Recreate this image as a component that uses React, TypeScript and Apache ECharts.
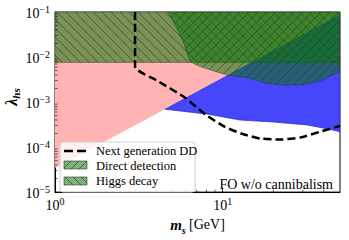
import React, { useEffect, useRef } from "react";
import * as echarts from "echarts";

// Axis ranges (m_s in GeV, lambda_hs)
const xRange = [1, 50];
const yRange = [1e-5, 0.1];

// Pink region (m_s [GeV], lambda_hs)
const pinkX = [1, 4.53, 50, 50, 1];
const pinkY = [3.47e-5, 6.9e-4, 0.086, 0.1, 0.1];

// Blue region
const blueX = [4.53, 50, 50, 41.9, 31.8, 19.95, 12.7, 8.17];
const blueY = [6.9e-4, 0.086, 2.2e-4, 2.54e-4, 3.1e-4, 3.6e-4, 3.98e-4, 5.37e-4];

// Higgs decay exclusion
const higgsX = [1, 50, 50, 1];
const higgsY = [7.6e-3, 7.6e-3, 0.1, 0.1];

// Direct detection exclusion
const ddX = [4.72, 5.19, 5.8, 6.38, 7.32, 9.0, 10.8, 14.5, 17.9, 22.9, 28.9, 38.0, 50, 50];
const ddY = [0.1, 0.0523, 0.0224, 7.9e-3, 6.15e-3, 4.8e-3, 3.93e-3, 3.39e-3, 2.64e-3, 2.39e-3, 2.39e-3, 2.92e-3, 4.8e-3, 0.1];

// Next generation DD (dashed)
const nextX = [3.0, 3.0, 4.11, 5.96, 7.84, 10.3, 13.0, 16.7, 22.0, 28.9, 38.0, 50];
const nextY = [0.1, 6.15e-3, 2.92e-3, 1.25e-3, 5.37e-4, 2.81e-4, 1.98e-4, 1.55e-4, 1.47e-4, 1.63e-4, 2.19e-4, 2.95e-4];

// Minor ticks
const xMinorTicks = [2, 3, 4, 5, 6, 7, 8, 9, 20, 30, 40];
const yMinorTicks = [
  2e-5, 3e-5, 4e-5, 5e-5, 6e-5, 7e-5, 8e-5, 9e-5,
  2e-4, 3e-4, 4e-4, 5e-4, 6e-4, 7e-4, 8e-4, 9e-4,
  2e-3, 3e-3, 4e-3, 5e-3, 6e-3, 7e-3, 8e-3, 9e-3,
  2e-2, 3e-2, 4e-2, 5e-2, 6e-2, 7e-2, 8e-2, 9e-2,
];

const legendLabels = ["Next generation DD", "Direct detection", "Higgs decay"];
const annotation = "FO w/o cannibalism";

const SERIF = "'Liberation Serif', 'DejaVu Serif', serif";
const L = Math.log10;

function makeHatch(dir: "/" | "\\", color: string, size = 9, lw = 1) {
  const c = document.createElement("canvas");
  c.width = size;
  c.height = size;
  const ctx = c.getContext("2d")!;
  ctx.strokeStyle = color;
  ctx.lineWidth = lw;
  ctx.beginPath();
  if (dir === "/") {
    ctx.moveTo(0, size);
    ctx.lineTo(size, 0);
    ctx.moveTo(-1, 1);
    ctx.lineTo(1, -1);
    ctx.moveTo(size - 1, size + 1);
    ctx.lineTo(size + 1, size - 1);
  } else {
    ctx.moveTo(0, 0);
    ctx.lineTo(size, size);
    ctx.moveTo(size - 1, -1);
    ctx.lineTo(size + 1, 1);
    ctx.moveTo(-1, size - 1);
    ctx.lineTo(1, size + 1);
  }
  ctx.stroke();
  return {
    image: c.toDataURL(),
    imageWidth: size,
    imageHeight: size,
    repeat: "repeat",
  } as any;
}

function polySeries(
  name: string,
  xs: number[],
  ys: number[],
  fill: string,
  hatch: any,
  stroke: string | null,
  z: number
) {
  return {
    type: "custom",
    name,
    coordinateSystem: "cartesian2d",
    z,
    silent: true,
    clip: true,
    data: xs.map((x, i) => [L(x), L(ys[i])]),
    renderItem: (params: any, api: any) => {
      if (params.dataIndex !== 0) return null;
      const pts = xs.map((x, i) => api.coord([L(x), L(ys[i])]));
      const children: any[] = [
        {
          type: "polygon",
          shape: { points: pts },
          style: { fill, stroke: stroke || "none", lineWidth: 0.8 },
        },
      ];
      if (hatch) {
        children.push({
          type: "polygon",
          shape: { points: pts },
          style: { fill: hatch, stroke: "none" },
        });
      }
      return { type: "group", children };
    },
  };
}

const supFmt = (v: number) => {
  if (Math.abs(v - Math.round(v)) > 1e-6) return "";
  const e = Math.round(v);
  return `{b|10}{s|${e < 0 ? "\u2212" + Math.abs(e) : e}}`;
};

const tickRich = {
  b: { fontFamily: SERIF, fontSize: 14, color: "#000", lineHeight: 16, verticalAlign: "bottom" },
  s: { fontFamily: SERIF, fontSize: 10, color: "#000", lineHeight: 11, verticalAlign: "top" },
};

export default function App() {
  const ref = useRef<HTMLDivElement>(null);
  useEffect(() => {
    if (!ref.current) return;
    const chart = echarts.init(ref.current, undefined, { renderer: "svg" });
    const green = "rgba(10,120,10,0.55)";
    const hatchCol = "rgba(70,40,50,0.6)";
    const hatchBack = makeHatch("\\", hatchCol);
    const hatchFwd = makeHatch("/", hatchCol);
    const hatchBackL = makeHatch("\\", hatchCol, 8);
    const hatchFwdL = makeHatch("/", hatchCol, 8);

    const option: any = {
      animation: false,
      grid: {
        left: 55,
        right: 9,
        top: 12,
        bottom: 43,
        show: true,
        borderColor: "#000",
        borderWidth: 1,
        backgroundColor: "transparent",
      },
      xAxis: {
        type: "value",
        min: 0,
        max: L(xRange[1]),
        interval: 1,
        name: "{a|m}{u|s} {c|[GeV]}",
        nameLocation: "middle",
        nameGap: 19,
        nameTextStyle: {
          rich: {
            a: { fontFamily: SERIF, fontSize: 15, fontWeight: "bold", fontStyle: "italic", color: "#000", lineHeight: 18, verticalAlign: "top" },
            u: { fontFamily: SERIF, fontSize: 10, fontWeight: "bold", fontStyle: "italic", color: "#000", lineHeight: 12, verticalAlign: "bottom" },
            c: { fontFamily: SERIF, fontSize: 14, color: "#000", lineHeight: 18, verticalAlign: "top" },
          },
        },
        axisLine: { show: true, onZero: false, lineStyle: { color: "#000", width: 1 } },
        axisTick: { show: true, inside: true, length: 4.5, lineStyle: { color: "#000", width: 0.8 } },
        axisLabel: { formatter: supFmt, rich: tickRich, margin: 4, showMaxLabel: false },
        splitLine: { show: false },
        minorTick: { show: false },
      },
      yAxis: {
        type: "value",
        min: L(yRange[0]),
        max: L(yRange[1]),
        interval: 1,
        axisLine: { show: true, onZero: false, lineStyle: { color: "#000", width: 1 } },
        axisTick: { show: true, inside: true, length: 4.5, lineStyle: { color: "#000", width: 0.8 } },
        axisLabel: { formatter: supFmt, rich: tickRich, margin: 5 },
        splitLine: { show: false },
        minorTick: { show: false },
      },
      series: [
        polySeries("pink", pinkX, pinkY, "#ffb3b3", null, null, 1),
        polySeries("blue", blueX, blueY, "#4646fd", null, "rgba(30,30,200,0.8)", 2),
        polySeries("Higgs decay", higgsX, higgsY, green, hatchBack, "rgba(40,40,40,0.5)", 3),
        polySeries("Direct detection", ddX, ddY, green, hatchFwd, "rgba(40,40,40,0.5)", 4),
        {
          type: "line",
          name: "Next generation DD",
          data: nextX.map((x, i) => [L(x), L(nextY[i])]),
          showSymbol: false,
          smooth: 0.2,
          z: 6,
          lineStyle: { color: "#000", width: 2.5, type: [8, 4] },
          silent: true,
        },
        {
          type: "custom",
          name: "xminor",
          coordinateSystem: "cartesian2d",
          z: 8,
          silent: true,
          clip: false,
          data: xMinorTicks.map((v) => [L(v), L(yRange[0])]),
          renderItem: (_p: any, api: any) => {
            const p = api.coord([api.value(0), L(yRange[0])]);
            return {
              type: "line",
              shape: { x1: p[0], y1: p[1], x2: p[0], y2: p[1] - 2.5 },
              style: { stroke: "#000", lineWidth: 0.6 },
            };
          },
        },
        {
          type: "custom",
          name: "yminor",
          coordinateSystem: "cartesian2d",
          z: 8,
          silent: true,
          clip: false,
          data: yMinorTicks.map((v) => [L(xRange[0]), L(v)]),
          renderItem: (_p: any, api: any) => {
            const p = api.coord([L(xRange[0]), api.value(1)]);
            return {
              type: "line",
              shape: { x1: p[0], y1: p[1], x2: p[0] + 2.5, y2: p[1] },
              style: { stroke: "#000", lineWidth: 0.6 },
            };
          },
        },
      ],
      graphic: [
        {
          type: "text",
          z: 100,
          x: 12,
          y: 97,
          rotation: Math.PI / 2,
          style: {
            text: "{a|\u03bb}{u|hs}",
            align: "center",
            verticalAlign: "middle",
            rich: {
              a: { fontFamily: SERIF, fontSize: 16, fontWeight: "bold", fontStyle: "italic", fill: "#000", lineHeight: 18, verticalAlign: "top" },
              u: { fontFamily: SERIF, fontSize: 11, fontWeight: "bold", fontStyle: "italic", fill: "#000", lineHeight: 12, verticalAlign: "bottom" },
            },
          },
        },
        {
          type: "text",
          z: 100,
          x: 333,
          y: 184,
          style: {
            text: annotation,
            fontFamily: SERIF,
            fontSize: 14,
            fill: "#000",
            align: "right",
            verticalAlign: "middle",
          },
        },
        {
          type: "group",
          z: 100,
          children: [
            {
              type: "rect",
              z: 100,
              shape: { x: 60, y: 142, width: 135, height: 50, r: 3 },
              style: { fill: "rgba(255,255,255,0.82)", stroke: "#d0d0d0", lineWidth: 1 },
            },
            {
              type: "line",
              z: 101,
              shape: { x1: 64, y1: 151, x2: 87, y2: 151 },
              style: { stroke: "#000", lineWidth: 2.5, lineDash: [9, 4] },
            },
            {
              type: "rect",
              z: 101,
              shape: { x: 64, y: 161, width: 23, height: 8 },
              style: { fill: green, stroke: "rgba(40,40,40,0.7)", lineWidth: 0.8 },
            },
            {
              type: "rect",
              z: 102,
              shape: { x: 64, y: 161, width: 23, height: 8 },
              style: { fill: hatchFwdL, stroke: "none" },
            },
            {
              type: "rect",
              z: 101,
              shape: { x: 64, y: 177, width: 23, height: 8 },
              style: { fill: green, stroke: "rgba(40,40,40,0.7)", lineWidth: 0.8 },
            },
            {
              type: "rect",
              z: 102,
              shape: { x: 64, y: 177, width: 23, height: 8 },
              style: { fill: hatchBackL, stroke: "none" },
            },
            ...legendLabels.map((t, i) => ({
              type: "text",
              z: 103,
              x: 96,
              y: [151, 166, 181][i],
              style: {
                text: t,
                fontFamily: SERIF,
                fontSize: 12.5,
                fill: "#000",
                align: "left",
                verticalAlign: "middle",
              },
            })),
          ],
        },
      ],
    };
    chart.setOption(option);
    return () => chart.dispose();
  }, []);
  return (
    <div
      ref={ref}
      style={{ position: "fixed", left: 0, top: 0, width: 349, height: 240, background: "#fff" }}
    />
  );
}
